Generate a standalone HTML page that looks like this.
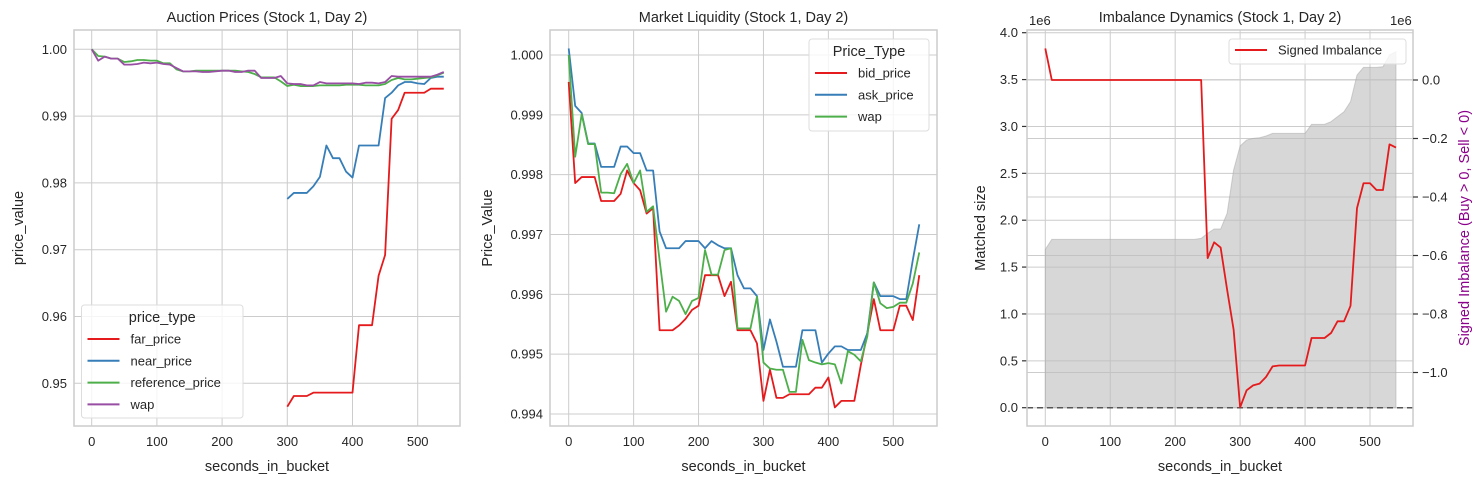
<!DOCTYPE html>
<html><head><meta charset="utf-8"><style>
html,body{margin:0;padding:0;background:#fff;}
svg{display:block;font-family:"Liberation Sans","DejaVu Sans",sans-serif;}
</style></head><body>
<svg id="chart" width="1484" height="484" viewBox="0 0 1484 484" xmlns="http://www.w3.org/2000/svg"></svg>
<script>
const secs = Array.from({length:55},(_,i)=>i*10);
const xTicks = [0,100,200,300,400,500];
// Panel 1 data
const p1Ticks = [0.95,0.96,0.97,0.98,0.99,1.00];
const p1TickLabels = ["0.95","0.96","0.97","0.98","0.99","1.00"];
const farPrice = [null,null,null,null,null,null,null,null,null,null,null,null,null,null,null,null,null,null,null,null,null,null,null,null,null,null,null,null,null,null,
0.9465,0.9481,0.9481,0.9481,0.9486,0.9486,0.9486,0.9486,0.9486,0.9486,0.9486,0.9587,0.9587,0.9587,0.9661,0.9692,0.9896,0.9909,0.9935,0.9935,0.9935,0.9935,0.9941,0.9941,0.9941];
const nearPrice = [null,null,null,null,null,null,null,null,null,null,null,null,null,null,null,null,null,null,null,null,null,null,null,null,null,null,null,null,null,null,
0.9776,0.9785,0.9785,0.9785,0.9795,0.9809,0.9856,0.9837,0.9837,0.9817,0.9808,0.9856,0.9856,0.9856,0.9856,0.9927,0.9935,0.9946,0.9951,0.9951,0.9949,0.9948,0.9957,0.9959,0.9959];
const refPrice = [1.0,0.9990,0.9989,0.9986,0.9986,0.9981,0.9982,0.9984,0.9984,0.9983,0.9983,0.9979,0.9979,0.9970,0.9967,0.9967,0.9968,0.9968,0.9968,0.9968,0.9968,0.9968,0.9968,0.9967,0.9966,0.9963,0.9958,0.9958,0.9958,0.9952,0.9945,0.9947,0.9945,0.9945,0.9945,0.9946,0.9946,0.9946,0.9946,0.9947,0.9947,0.9947,0.9946,0.9946,0.9946,0.9948,0.9954,0.9957,0.9955,0.9955,0.9956,0.9957,0.9958,0.9961,0.9965];
const wap1 = [1.0,0.9983,0.9989,0.9986,0.9986,0.9977,0.9977,0.9978,0.9980,0.9979,0.9980,0.9978,0.9977,0.9972,0.9967,0.9967,0.9967,0.9966,0.9966,0.9967,0.9968,0.9968,0.9966,0.9966,0.9968,0.9968,0.9957,0.9957,0.9957,0.9960,0.9949,0.9948,0.9948,0.9946,0.9946,0.9951,0.9949,0.9949,0.9949,0.9949,0.9949,0.9948,0.9950,0.9950,0.9949,0.9951,0.9960,0.9959,0.9959,0.9959,0.9959,0.9959,0.9959,0.9962,0.9966];
// Panel 2 data
const p2Ticks = [0.994,0.995,0.996,0.997,0.998,0.999,1.000];
const p2TickLabels = ["0.994","0.995","0.996","0.997","0.998","0.999","1.000"];
const bidPrice = [0.99955,0.99786,0.99796,0.99796,0.99796,0.99756,0.99756,0.99756,0.99768,0.99807,0.99786,0.99774,0.99735,0.99744,0.99540,0.99540,0.99540,0.99548,0.99559,0.99574,0.99581,0.99632,0.99632,0.99632,0.99597,0.99621,0.99540,0.99540,0.99540,0.99518,0.99422,0.99474,0.99427,0.99427,0.99433,0.99433,0.99433,0.99433,0.99444,0.99444,0.99461,0.99411,0.99422,0.99422,0.99422,0.99482,0.99535,0.99592,0.99540,0.99540,0.99540,0.99581,0.99581,0.99557,0.99632];
const askPrice = [1.00011,0.99915,0.99903,0.99852,0.99852,0.99813,0.99813,0.99813,0.99847,0.99847,0.99836,0.99836,0.99807,0.99807,0.99705,0.99677,0.99677,0.99677,0.99689,0.99689,0.99689,0.99677,0.99689,0.99682,0.99677,0.99677,0.99632,0.99610,0.99610,0.99597,0.99507,0.99558,0.99521,0.99479,0.99479,0.99479,0.99540,0.99540,0.99540,0.99486,0.99501,0.99513,0.99513,0.99507,0.99507,0.99507,0.99535,0.99620,0.99597,0.99597,0.99597,0.99592,0.99592,0.99657,0.99717];
const wap2 = [1.0000,0.99830,0.99901,0.99851,0.99851,0.99770,0.99770,0.99769,0.99801,0.99818,0.99786,0.99807,0.99738,0.99747,0.99657,0.99571,0.99596,0.99589,0.99567,0.99589,0.99594,0.99674,0.99633,0.99633,0.99674,0.99677,0.99543,0.99543,0.99543,0.99596,0.99486,0.99476,0.99474,0.99474,0.99437,0.99437,0.99524,0.99490,0.99486,0.99483,0.99485,0.99483,0.99451,0.99505,0.99499,0.99488,0.99530,0.99620,0.99585,0.99577,0.99579,0.99586,0.99586,0.99618,0.99670];
// Panel 3 data
const p3LeftTicks = [0,0.5,1,1.5,2,2.5,3,3.5,4];
const p3LeftLabels = ["0.0","0.5","1.0","1.5","2.0","2.5","3.0","3.5","4.0"];
const p3RightTicks = [0,-0.2,-0.4,-0.6,-0.8,-1.0];
const p3RightLabels = ["0.0","−0.2","−0.4","−0.6","−0.8","−1.0"];
const matchedSize = [1.689,1.796,1.796,1.796,1.796,1.796,1.796,1.796,1.796,1.796,1.796,1.796,1.796,1.796,1.796,1.796,1.796,1.796,1.796,1.796,1.796,1.796,1.796,1.796,1.806,1.860,1.906,1.906,2.073,2.535,2.791,2.855,2.873,2.880,2.898,2.926,2.926,2.926,2.926,2.926,2.926,3.022,3.022,3.022,3.051,3.104,3.157,3.264,3.548,3.630,3.630,3.630,3.637,3.762,3.797];
const signedImb = [0.108,0,0,0,0,0,0,0,0,0,0,0,0,0,0,0,0,0,0,0,0,0,0,0,0,-0.609,-0.555,-0.573,-0.717,-0.854,-1.119,-1.061,-1.044,-1.038,-1.015,-0.979,-0.976,-0.976,-0.976,-0.976,-0.976,-0.882,-0.882,-0.882,-0.865,-0.825,-0.825,-0.772,-0.438,-0.353,-0.353,-0.376,-0.376,-0.220,-0.231];

const NS="http://www.w3.org/2000/svg";
const svg=document.getElementById('chart');
function mk(tag,attrs,parent,text){const e=document.createElementNS(NS,tag);for(const k in attrs)e.setAttribute(k,attrs[k]);if(text!==undefined)e.textContent=text;(parent||svg).appendChild(e);return e;}
const TC="#262626", GRID="#cccccc";
function lin(d0,d1,r0,r1){return v=>r0+(v-d0)*(r1-r0)/(d1-d0);}
function pathFrom(xs,ys,X,Y){let d="",pen=false;for(let i=0;i<xs.length;i++){if(ys[i]===null||ys[i]===undefined){pen=false;continue;}d+=(pen?"L":"M")+X(xs[i]).toFixed(2)+","+Y(ys[i]).toFixed(2);pen=true;}return d;}

function panel(o){
  const g=mk('g',{});
  
  
  const X=lin(0,500,o.x0,o.x500);
  const Y=lin(o.yd0,o.yd1,o.yr0,o.yr1);
  mk('rect',{x:o.L,y:o.T,width:o.R-o.L,height:o.B-o.T,fill:'#fff'},g);
  const grid=mk('g',{},g);
  
  
  xTicks.forEach(t=>mk('line',{x1:X(t),x2:X(t),y1:o.T,y2:o.B,stroke:GRID,'stroke-width':1},grid));
  o.yTicks.forEach(t=>mk('line',{x1:o.L,x2:o.R,y1:Y(t),y2:Y(t),stroke:GRID,'stroke-width':1},grid));
  // x tick labels
  const xl=mk('g',{},g);
  
  
  xTicks.forEach(t=>mk('text',{x:X(t),y:o.B+20,'text-anchor':'middle','font-size':13,fill:TC},xl,String(t)));
  const yl=mk('g',{},g);
  
  
  o.yTicks.forEach((t,i)=>{
    if(o.tickMarks) mk('line',{x1:o.L-5,x2:o.L,y1:Y(t),y2:Y(t),stroke:'#333','stroke-width':1.2},yl);
    mk('text',{x:o.L-(o.tickMarks?9:7),y:Y(t)+4.5,'text-anchor':'end','font-size':13,fill:TC},yl,o.yLabels[i]);
  });
  const title=mk('text',{x:(o.L+o.R)/2,y:22,'text-anchor':'middle','font-size':14.5,fill:TC},g,o.title);
  
  
  const xt=mk('text',{x:(o.L+o.R)/2,y:471,'text-anchor':'middle','font-size':14.5,fill:TC},g,'seconds_in_bucket');
  
  
  const yx=o.ylabX;
  const yt=mk('text',{x:yx,y:(o.T+o.B)/2,'text-anchor':'middle','font-size':14.5,fill:TC,transform:`rotate(-90 ${yx} ${(o.T+o.B)/2})`},g,o.ylabel);
  
  
  return {g,X,Y};
}
function spine(o,g){mk('rect',{x:o.L,y:o.T,width:o.R-o.L,height:o.B-o.T,fill:'none',stroke:GRID,'stroke-width':1.5},g);}
function legend(g,name,x,y,w,h,title,items,tx){
  const lg=mk('g',{},g);
  
  
  mk('rect',{x:x,y:y,width:w,height:h,rx:3,fill:'#fff','fill-opacity':0.8,stroke:'#dddddd'},lg);
  let yy=y+11;
  if(title){mk('text',{x:x+w/2,y:y+17,'text-anchor':'middle','font-size':14.5,fill:TC},lg,title);yy=y+34;}
  items.forEach((it,i)=>{
    const e=mk('g',{},lg);
    
    
    const cy=yy+i*21.8;
    mk('line',{x1:x+6,x2:x+38,y1:cy,y2:cy,stroke:it[1],'stroke-width':2},e);
    mk('text',{x:x+tx,y:cy+4.5,'font-size':13,fill:TC},e,it[0]);
  });
}
function series(g,name,xs,ys,X,Y,color){
  const p=mk('path',{d:pathFrom(xs,ys,X,Y),fill:'none',stroke:color,'stroke-width':1.8,'stroke-linejoin':'round'},g);
  
  
}
const RED="#e41a1c",BLUE="#377eb8",GREEN="#4daf4a",PURPLE="#984ea3";

// Panel 1
const o1={name:'auction-prices-panel',L:74,R:460,T:30,B:426,x0:91.7,x500:417.7,yd0:1.0,yd1:0.95,yr0:49.3,yr1:383.3,yTicks:p1Ticks,yLabels:p1TickLabels,title:'Auction Prices (Stock 1, Day 2)',ylabel:'price_value',ylabX:23};
const P1=panel(o1);
series(P1.g,'far-price-line',secs,farPrice,P1.X,P1.Y,RED);
series(P1.g,'near-price-line',secs,nearPrice,P1.X,P1.Y,BLUE);
series(P1.g,'reference-price-line',secs,refPrice,P1.X,P1.Y,GREEN);
series(P1.g,'wap-line',secs,wap1,P1.X,P1.Y,PURPLE);
spine(o1,P1.g);
legend(P1.g,'price-type-legend',81.5,305,161.5,113,'price_type',[['far_price',RED],['near_price',BLUE],['reference_price',GREEN],['wap',PURPLE]],49);

// Panel 2
const o2={name:'market-liquidity-panel',L:550,R:937,T:30,B:426,x0:568.7,x500:893.3,yd0:1.0,yd1:0.994,yr0:55,yr1:414,yTicks:p2Ticks,yLabels:p2TickLabels,title:'Market Liquidity (Stock 1, Day 2)',ylabel:'Price_Value',ylabX:492};
const P2=panel(o2);
series(P2.g,'bid-price-line',secs,bidPrice,P2.X,P2.Y,RED);
series(P2.g,'ask-price-line',secs,askPrice,P2.X,P2.Y,BLUE);
series(P2.g,'wap-line',secs,wap2,P2.X,P2.Y,GREEN);
spine(o2,P2.g);
legend(P2.g,'price-type-legend',809,39,120,92,'Price_Type',[['bid_price',RED],['ask_price',BLUE],['wap',GREEN]],49);

// Panel 3
const o3={name:'imbalance-dynamics-panel',L:1027,R:1413,T:30,B:426,x0:1045.3,x500:1370,yd0:0,yd1:4,yr0:407.7,yr1:32.7,yTicks:p3LeftTicks,yLabels:p3LeftLabels,title:'Imbalance Dynamics (Stock 1, Day 2)',ylabel:'Matched size',ylabX:985,tickMarks:true};
const P3=panel(o3);
const YR=lin(0,-1,80,372.5);
const rg=mk('g',{},P3.g);


p3RightTicks.forEach(t=>mk('line',{x1:o3.L,x2:o3.R,y1:YR(t),y2:YR(t),stroke:GRID,'stroke-width':1},rg));
// fill area
let ad="M"+P3.X(secs[0])+","+P3.Y(0);
secs.forEach((s,i)=>{ad+="L"+P3.X(s).toFixed(2)+","+P3.Y(matchedSize[i]).toFixed(2);});
ad+="L"+P3.X(secs[secs.length-1])+","+P3.Y(0)+"Z";
const area=mk('path',{d:ad,fill:'#bdbdbd','fill-opacity':0.6,stroke:'#a8a8a8','stroke-opacity':0.5,'stroke-width':1},P3.g);


const zl=mk('line',{x1:o3.L,x2:o3.R,y1:P3.Y(0),y2:P3.Y(0),stroke:'#555','stroke-width':1.5,'stroke-dasharray':'6,4'},P3.g);


series(P3.g,'signed-imbalance-line',secs,signedImb,P3.X,YR,RED);
spine(o3,P3.g);
const ryl=mk('g',{},P3.g);


p3RightTicks.forEach((t,i)=>{
  mk('line',{x1:o3.R,x2:o3.R+5,y1:YR(t),y2:YR(t),stroke:'#333','stroke-width':1.2},ryl);
  mk('text',{x:o3.R+9,y:YR(t)+4.5,'font-size':13,fill:TC},ryl,p3RightLabels[i]);
});
const e1=mk('text',{x:1029,y:25,'font-size':13,fill:TC},P3.g,'1e6');


const e2=mk('text',{x:1390,y:25,'font-size':13,fill:TC},P3.g,'1e6');


const rt=mk('text',{x:1469,y:228,'text-anchor':'middle','font-size':14.5,fill:'#8b008b',transform:'rotate(-90 1469 228)'},P3.g,'Signed Imbalance (Buy > 0, Sell < 0)');


legend(P3.g,'imbalance-legend',1229,39,177,25,null,[['Signed Imbalance',RED]],49);
</script>
</body></html>
